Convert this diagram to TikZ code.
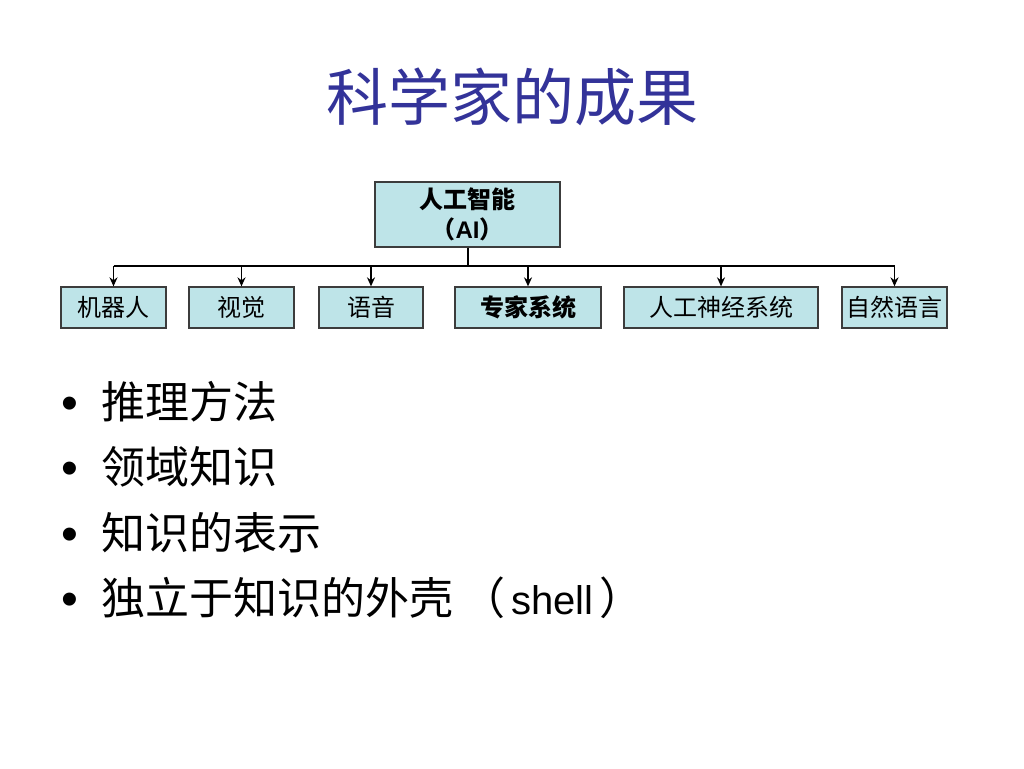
\documentclass[tikz,border=0pt]{standalone}
\usepackage{fontspec}
\setmainfont{Liberation Sans}
\newfontfamily\cjk{Noto Sans CJK SC}
\usetikzlibrary{arrows.meta}
\definecolor{boxfill}{RGB}{190,228,232}
\definecolor{boxline}{RGB}{60,60,60}
\definecolor{titleblue}{RGB}{51,51,153}
\tikzset{
  leaf/.style={draw=boxline, line width=1.3pt, fill=boxfill, minimum height=41pt, inner sep=0pt, font=\fontsize{24}{26}\selectfont\cjk},
  conn/.style={line width=1.4pt, -{Stealth[length=9pt,width=8pt]}},
  bul/.style={anchor=base west, inner sep=0pt, font=\fontsize{48}{48}\selectfont},
  bultext/.style={anchor=base west, inner sep=0pt, font=\fontsize{44}{44}\selectfont\cjk}
}
\begin{document}
\begin{tikzpicture}[x=1pt,y=-1pt]
\useasboundingbox (0,0) rectangle (1024,768);
\fill[white] (0,0) rectangle (1024,768);
\node[inner sep=0pt, text=titleblue, font=\fontsize{62}{64}\selectfont\cjk] (title) at (512,97) {科学家的成果};

\node[leaf, minimum width=185pt, minimum height=65pt, align=center, font=\fontsize{24}{30}\selectfont\cjk\bfseries] (ai) at (467.5,214.5) {人工智能\\（{\fontspec{Liberation Sans}\bfseries AI}）};

\node[leaf, minimum width=105pt] (b1) at (113.5,307.5) {机器人};
\node[leaf, minimum width=105pt] (b2) at (241.5,307.5) {视觉};
\node[leaf, minimum width=104pt] (b3) at (371,307.5) {语音};
\node[leaf, minimum width=146pt, font=\fontsize{24}{26}\selectfont\cjk\bfseries] (b4) at (528,307.5) {专家系统};
\node[leaf, minimum width=194pt] (b5) at (721,307.5) {人工神经系统};
\node[leaf, minimum width=105pt] (b6) at (894.5,307.5) {自然语言};

\coordinate (busL) at (113.5,266);
\coordinate (busR) at (894.5,266);
\draw[line width=2.3pt] (busL) -- (busR);
\draw[line width=2pt] (ai.south) -- (ai.south |- busL);
\foreach \b in {b1,b2,b3,b4,b5,b6}{
  \draw[conn] (\b.north |- busL) -- (\b.north);
}

\node[bul] (d1) at (61,419) {•};
\node[bul] (d2) at (61,484.5) {•};
\node[bul] (d3) at (61,550) {•};
\node[bul] (d4) at (61,615.5) {•};
\node[bultext] (t1) at (101,418) {推理方法};
\node[bultext] (t2) at (101,483.5) {领域知识};
\node[bultext] (t3) at (101,549) {知识的表示};
\node[bultext] (t4) at (101,614.5) {独立于知识的外壳\hspace{8pt}（\hspace{6pt}{\fontspec{Liberation Sans}\fontsize{40}{40}\selectfont shell}\hspace{6pt}）};
\end{tikzpicture}
\end{document}
